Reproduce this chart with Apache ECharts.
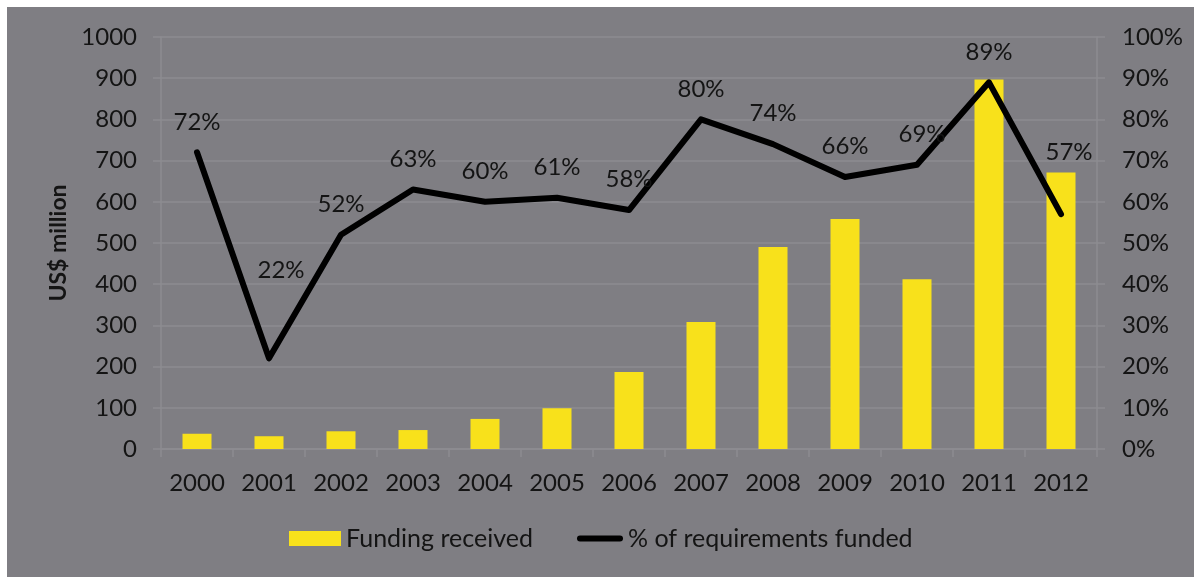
<!DOCTYPE html>
<html>
<head>
<meta charset="utf-8">
<script src="https://cdn.jsdelivr.net/npm/echarts@6/dist/echarts.min.js"></script>
<style>
  html, body { margin: 0; padding: 0; background: #fff; }
  #chart { position: absolute; left: 7px; top: 7px; width: 1187px; height: 570px; background: #7f7e83; }
</style>
</head>
<body>
<div id="chart"></div>
<script>
// 数据
var years = ['2000', '2001', '2002', '2003', '2004', '2005', '2006', '2007', '2008', '2009', '2010', '2011', '2012'];
var funding = [37, 31, 43, 46, 73, 99, 187, 308, 490, 558, 412, 897, 671];
var pctFunded = [72, 22, 52, 63, 60, 61, 58, 80, 74, 66, 69, 89, 57];

var FONT = 'Lato';
var TXT = '#141414';
var GRID = '#8d8c91';

// 个别标签位置（与原图手动摆放一致）
var labelShift = { 1: [12, -58], 10: [5, 0], 12: [8, -31] };

var chart = echarts.init(document.getElementById('chart'));

chart.setOption({
  backgroundColor: '#7f7e83',
  textStyle: { fontFamily: FONT, color: TXT },
  grid: { left: 154, right: 97, top: 30, bottom: 128 },
  legend: [{
    data: ['Funding received'],
    left: 282, top: 519, padding: 0,
    itemWidth: 52, itemHeight: 15, itemGap: 6,
    icon: 'rect',
    textStyle: { fontFamily: FONT, fontSize: 25, color: TXT }
  }, {
    data: ['% of requirements funded'],
    left: 570, top: 519, padding: 0,
    itemWidth: 46, itemHeight: 15, itemGap: 2,
    icon: 'path://M3,6 L43,6 A3,3 0 0 1 43,12 L3,12 A3,3 0 0 1 3,6 Z',
    itemStyle: { color: '#000' },
    textStyle: { fontFamily: FONT, fontSize: 25, color: TXT }
  }],
  xAxis: {
    type: 'category',
    data: years,
    axisLine: { lineStyle: { color: GRID, width: 1.5 } },
    axisTick: { show: true, length: 8, lineStyle: { color: GRID, width: 1.5 } },
    axisLabel: { fontFamily: FONT, fontSize: 24, color: TXT, margin: 22, interval: 0 }
  },
  yAxis: [{
    type: 'value',
    min: 0, max: 1000, interval: 100,
    name: 'US$ million',
    nameLocation: 'middle',
    nameGap: 86,
    nameTextStyle: { fontFamily: FONT, fontSize: 23, fontWeight: 'bold', color: TXT },
    axisLine: { show: true, lineStyle: { color: GRID, width: 1.5 } },
    axisTick: { show: true, length: 8, lineStyle: { color: GRID, width: 1.5 } },
    axisLabel: {
      fontFamily: FONT, fontSize: 24, color: TXT, margin: 24,
      formatter: function (v) { return String(v); }
    },
    splitLine: { lineStyle: { color: GRID, width: 1.5 } }
  }, {
    type: 'value',
    min: 0, max: 100, interval: 10,
    axisLine: { show: true, lineStyle: { color: GRID, width: 1.5 } },
    axisTick: { show: true, length: 8, lineStyle: { color: GRID, width: 1.5 } },
    axisLabel: { fontFamily: FONT, fontSize: 24, color: TXT, margin: 25, formatter: '{value}%' },
    splitLine: { show: false }
  }],
  series: [{
    name: 'Funding received',
    type: 'bar',
    data: funding,
    barWidth: 29,
    itemStyle: { color: '#f8e11b' },
    z: 2
  }, {
    name: '% of requirements funded',
    type: 'line',
    yAxisIndex: 1,
    symbol: 'circle',
    symbolSize: 1,
    data: pctFunded,
    lineStyle: { color: '#000', width: 6, cap: 'round', join: 'round' },
    itemStyle: { color: '#000' },
    label: {
      show: true,
      position: 'top',
      distance: 18,
      fontFamily: FONT,
      fontSize: 24,
      color: TXT,
      formatter: '{c}%'
    },
    labelLayout: function (params) {
      var s = labelShift[params.dataIndex] || [0, 0];
      return { dx: s[0], dy: s[1], hideOverlap: false };
    },
    z: 3
  }]
});
</script>
</body>
</html>
